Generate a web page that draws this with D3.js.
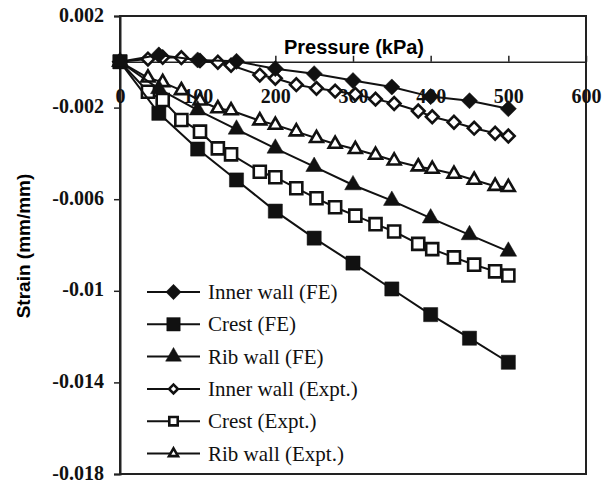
<!DOCTYPE html>
<html>
<head>
<meta charset="utf-8">
<script src="https://cdn.jsdelivr.net/npm/d3@7"></script>
<style>
  body { margin: 0; background: #fff; }
  svg { display: block; }
</style>
</head>
<body>
<div id="chart"></div>
<script>
// pressure steps (kPa)
var feP = [0, 50, 100, 150, 200, 250, 300, 350, 400, 450, 500];
var exP = [0, 36, 55, 79, 103, 126, 143, 180, 200, 227, 253, 277, 303, 329, 353, 384, 402, 430, 456, 483, 500];

// strain values
var innerFE = [0, 0.0003, 0.00008, 0.00002, -0.0003, -0.00052, -0.00082, -0.0011, -0.00152, -0.0017, -0.00205];
var crestFE = [0, -0.00225, -0.00381, -0.00516, -0.00652, -0.0077, -0.00879, -0.00992, -0.01104, -0.01207, -0.01312];
var ribFE = [0, -0.00118, -0.00211, -0.00295, -0.00378, -0.00458, -0.00538, -0.00606, -0.00683, -0.00756, -0.00828];

var innerEx = [0, 0.00012, 0.0002, 0.00018, 0.00005, -0.00002, -0.00015, -0.00058, -0.00072, -0.001, -0.00116, -0.00128, -0.00142, -0.00163, -0.00182, -0.00215, -0.0024, -0.00264, -0.0029, -0.00312, -0.00324];
var crestEx = [0, -0.00131, -0.00167, -0.00254, -0.00305, -0.00378, -0.00404, -0.0048, -0.00504, -0.00552, -0.00596, -0.00635, -0.00672, -0.00709, -0.00741, -0.00795, -0.00818, -0.00854, -0.00886, -0.00915, -0.00933];
var ribEx = [0, -0.0007, -0.0009, -0.00125, -0.0017, -0.00204, -0.00213, -0.00257, -0.00276, -0.00305, -0.00334, -0.00359, -0.00382, -0.00407, -0.00432, -0.00458, -0.00468, -0.0049, -0.00516, -0.00543, -0.00548];

var xTicks = [0, 100, 200, 300, 400, 500, 600];
var yTicks = [0.002, -0.002, -0.006, -0.01, -0.014, -0.018];

var series = [
  { name: "Inner wall (FE)", x: feP, y: innerFE, shape: "diamond", fill: true },
  { name: "Crest (FE)", x: feP, y: crestFE, shape: "square", fill: true },
  { name: "Rib wall (FE)", x: feP, y: ribFE, shape: "triangle", fill: true },
  { name: "Inner wall (Expt.)", x: exP, y: innerEx, shape: "diamond", fill: false },
  { name: "Crest (Expt.)", x: exP, y: crestEx, shape: "square", fill: false },
  { name: "Rib wall (Expt.)", x: exP, y: ribEx, shape: "triangle", fill: false }
];

var W = 611, H = 483;
var margin = {top: 16, right: 25, bottom: 9, left: 120};
var width = W - margin.left - margin.right,
    height = H - margin.top - margin.bottom;

var svg = d3.select("#chart").append("svg")
    .attr("width", W)
    .attr("height", H);

var g = svg.append("g")
    .attr("transform", "translate(" + margin.left + "," + margin.top + ")");

var x = d3.scaleLinear().domain([0, 600]).range([0, width]);
var y = d3.scaleLinear().domain([-0.018, 0.002]).range([height, 0]);

// plot frame
g.append("rect")
    .attr("width", width)
    .attr("height", height)
    .attr("fill", "none")
    .attr("stroke", "#222")
    .attr("stroke-width", 2);

// y axis on the left
var yAxis = g.append("g")
    .call(d3.axisLeft(y).tickValues(yTicks).tickSize(6).tickPadding(10)
      .tickFormat(function(d) { return String(+d.toFixed(3)); }));
yAxis.select(".domain").attr("stroke", "#222").attr("stroke-width", 2);
yAxis.selectAll(".tick line").attr("stroke", "#222").attr("stroke-width", 1.5);
yAxis.selectAll("text")
    .attr("dy", "0.25em")
    .attr("font-family", "Liberation Serif, Times New Roman, serif")
    .attr("font-weight", "bold")
    .attr("font-size", 20)
    .attr("fill", "#111");

// x axis crossing at zero, ticks pointing up and labels below
var xAxis = g.append("g")
    .attr("transform", "translate(0," + y(0) + ")")
    .call(d3.axisTop(x).tickValues(xTicks).tickSize(6).tickSizeOuter(0).tickFormat(d3.format("d")));
xAxis.select(".domain").attr("stroke", "#222").attr("stroke-width", 1.5);
xAxis.selectAll(".tick line").attr("stroke", "#222").attr("stroke-width", 1.5);
xAxis.selectAll("text")
    .attr("y", 41)
    .attr("dy", 0)
    .attr("font-family", "Liberation Serif, Times New Roman, serif")
    .attr("font-weight", "bold")
    .attr("font-size", 20)
    .attr("fill", "#111");

// axis titles
g.append("text")
    .attr("x", x(300) + 1)
    .attr("y", 38)
    .attr("text-anchor", "middle")
    .attr("font-family", "Liberation Sans, Arial, sans-serif")
    .attr("font-weight", "bold")
    .attr("font-size", 20)
    .text("Pressure (kPa)");

svg.append("text")
    .attr("transform", "translate(30," + 246 + ") rotate(-90)")
    .attr("text-anchor", "middle")
    .attr("font-family", "Liberation Sans, Arial, sans-serif")
    .attr("font-weight", "bold")
    .attr("font-size", 19)
    .text("Strain (mm/mm)");

// marker shapes (filled ones are a bit bigger)
function markerPath(shape, big) {
  if (shape == "diamond") return d3.symbol().type(d3.symbolSquare).size(big ? 130 : 80)();
  if (shape == "square") return d3.symbol().type(d3.symbolSquare).size(big ? 200 : 145)();
  return d3.symbol().type(d3.symbolTriangle).size(big ? 120 : 72)();
}

function drawMarker(sel, s, cx, cy, scale) {
  var rot = s.shape == "diamond" ? 45 : 0;
  sel.append("path")
      .attr("d", markerPath(s.shape, s.fill))
      .attr("transform", "translate(" + cx + "," + cy + ") scale(" + scale + ") rotate(" + rot + ")")
      .attr("fill", s.fill ? "#111" : "#fff")
      .attr("stroke", "#111")
      .attr("stroke-linejoin", "miter")
      .attr("stroke-width", s.fill ? 0.5 : 2.6 / scale);
}

var line = d3.line()
    .x(function(d) { return x(d[0]); })
    .y(function(d) { return y(d[1]); });

// draw expt first, FE on top
var order = [3, 4, 5, 0, 1, 2];
order.forEach(function(i) {
  var s = series[i];
  var pts = s.x.map(function(p, k) { return [p, s.y[k]]; });
  g.append("path")
      .datum(pts)
      .attr("d", line)
      .attr("fill", "none")
      .attr("stroke", "#111")
      .attr("stroke-width", 2);
  var mg = g.append("g");
  pts.forEach(function(d) {
    drawMarker(mg, s, x(d[0]), y(d[1]), 1);
  });
});

// legend
var legend = svg.append("g");
series.forEach(function(s, i) {
  var ly = 292 + i * 32.3;
  legend.append("line")
      .attr("x1", 147).attr("x2", 200)
      .attr("y1", ly).attr("y2", ly)
      .attr("stroke", "#111")
      .attr("stroke-width", 2);
  drawMarker(legend, s, 173.5, ly, s.fill ? 0.95 : 0.7);
  legend.append("text")
      .attr("x", 208)
      .attr("y", ly + 7)
      .attr("font-family", "Liberation Serif, Times New Roman, serif")
      .attr("font-size", 21)
      .attr("fill", "#111")
      .text(s.name);
});
</script>
</body>
</html>
